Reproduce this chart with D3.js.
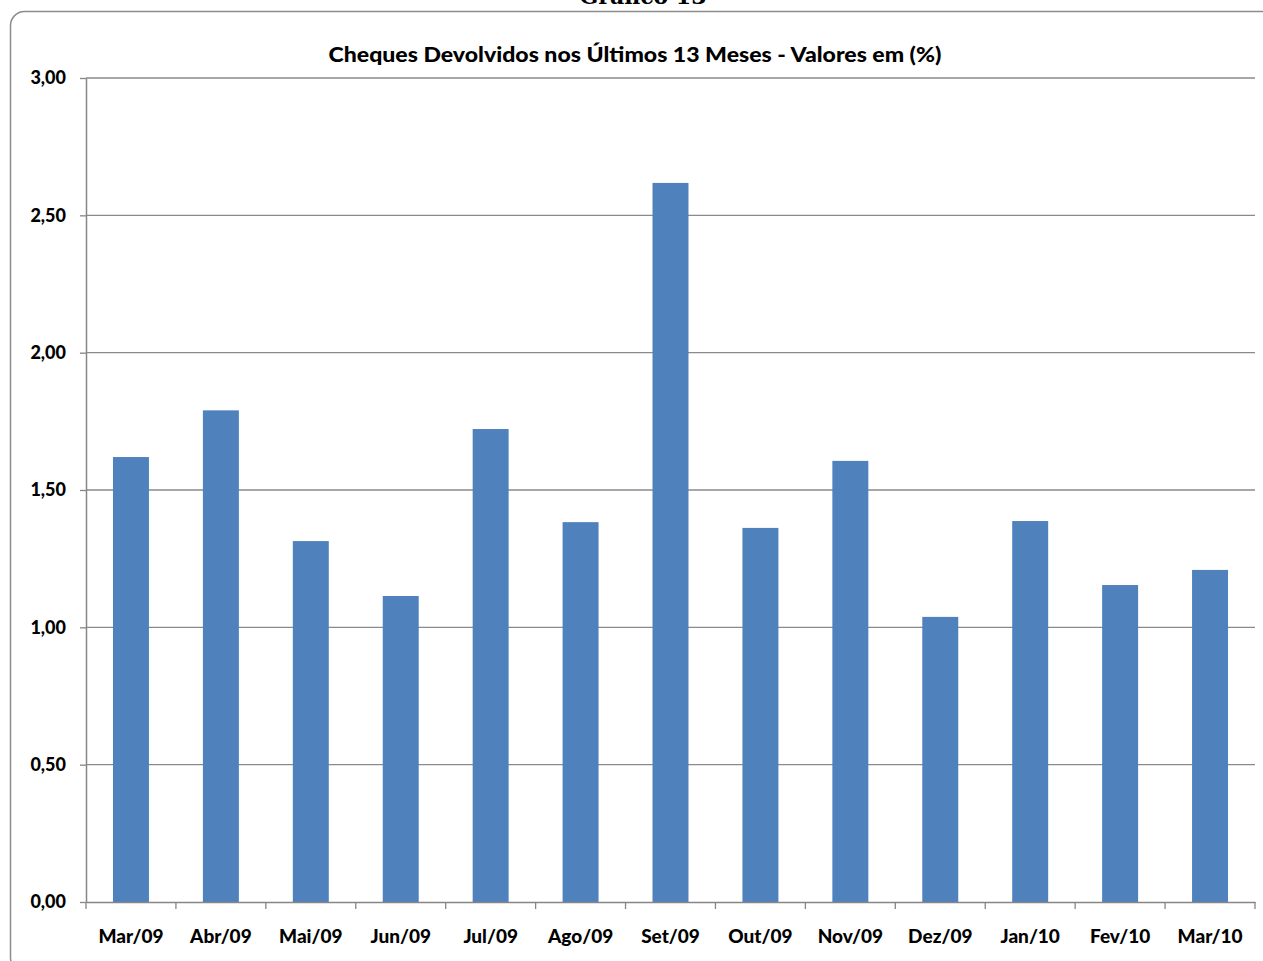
<!DOCTYPE html>
<html>
<head>
<meta charset="utf-8">
<script src="https://cdn.jsdelivr.net/npm/d3@7"></script>
<style>
  html, body { margin: 0; padding: 0; background: #fff; }
  svg { display: block; }
</style>
</head>
<body>
<svg id="chart" width="1263" height="961"></svg>
<script>
const categories = ["Mar/09","Abr/09","Mai/09","Jun/09","Jul/09","Ago/09","Set/09","Out/09","Nov/09","Dez/09","Jan/10","Fev/10","Mar/10"];
const values = [1.62, 1.79, 1.314, 1.114, 1.722, 1.383, 2.618, 1.362, 1.606, 1.038, 1.387, 1.154, 1.209];
const yTicks = [0, 0.5, 1, 1.5, 2, 2.5, 3];
const titleText = "Cheques Devolvidos nos Últimos 13 Meses - Valores em (%)";
const headerText = "Gráfico 13";

const svg = d3.select("#chart");
const margin = {left: 86, right: 8, top: 78, bottom: 59};
const W = 1263, H = 961;
const x0 = margin.left, x1 = W - margin.right;
const y0 = H - margin.bottom, y1 = margin.top;
const labelFont = "Lato, 'Open Sans', sans-serif";

// outer frame
svg.append("rect")
  .attr("x", 10.5).attr("y", 11.5)
  .attr("width", 1275).attr("height", 960)
  .attr("rx", 14).attr("ry", 14)
  .attr("fill", "none").attr("stroke", "#8c8c8c").attr("stroke-width", 1.5);

svg.append("text")
  .attr("x", 643).attr("y", 4)
  .attr("text-anchor", "middle")
  .attr("font-family", "'DejaVu Serif', serif")
  .attr("font-weight", "bold")
  .attr("font-size", 22)
  .text(headerText);

const x = d3.scaleBand().domain(categories).range([x0, x1]).paddingInner(0.6).paddingOuter(0.3);
const y = d3.scaleLinear().domain([0, 3]).range([y0, y1]);

// gridlines
svg.append("g")
  .selectAll("line")
  .data(yTicks.filter(d => d > 0))
  .join("line")
  .attr("x1", x0).attr("x2", x1)
  .attr("y1", d => y(d)).attr("y2", d => y(d))
  .attr("stroke", "#8a8a8a").attr("stroke-width", 1.3);

// bars
svg.append("g")
  .selectAll("rect")
  .data(values)
  .join("rect")
  .attr("x", (d, i) => x(categories[i]))
  .attr("y", d => y(d))
  .attr("width", x.bandwidth())
  .attr("height", d => y(0) - y(d))
  .attr("fill", "#4F81BD");

// y axis
const yAxis = d3.axisLeft(y).tickValues(yTicks).tickSize(6).tickSizeOuter(0)
  .tickFormat(d => d3.format(".2f")(d).replace(".", ","));
const gy = svg.append("g").attr("transform", `translate(${x0},0)`).call(yAxis);
gy.select(".domain").attr("stroke", "#868686").attr("stroke-width", 1.5);
gy.selectAll(".tick line").attr("stroke", "#868686").attr("stroke-width", 1.3);
gy.selectAll(".tick text")
  .attr("x", -20)
  .attr("font-family", labelFont)
  .attr("font-weight", 900)
  .attr("font-size", 18)
  .attr("fill", "#000");

// x axis
const xAxis = d3.axisBottom(x).tickSize(0).tickSizeOuter(0);
const gx = svg.append("g").attr("transform", `translate(0,${y0})`).call(xAxis);
gx.select(".domain").attr("stroke", "#868686").attr("stroke-width", 1.5);
gx.selectAll(".tick text")
  .attr("dy", 0).attr("y", 41)
  .attr("font-family", labelFont)
  .attr("font-weight", 900)
  .attr("font-size", 19)
  .attr("fill", "#000");
// boundary tick marks
const step = x.step();
const bounds = d3.range(categories.length + 1).map(i => x0 + i * step);
gx.append("g").selectAll("line")
  .data(bounds)
  .join("line")
  .attr("x1", d => d).attr("x2", d => d)
  .attr("y1", 0).attr("y2", 7)
  .attr("stroke", "#868686").attr("stroke-width", 1.3);

// title
svg.append("text")
  .attr("x", 635).attr("y", 62)
  .attr("text-anchor", "middle")
  .attr("font-family", labelFont)
  .attr("font-weight", 900)
  .attr("font-size", 21)
  .attr("textLength", 613)
  .attr("lengthAdjust", "spacingAndGlyphs")
  .text(titleText);
</script>
</body>
</html>
